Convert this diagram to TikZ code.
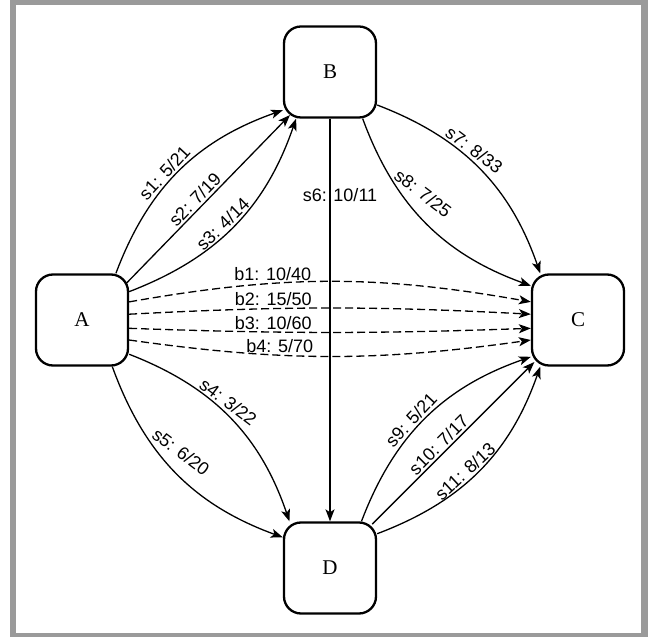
\documentclass[tikz,border=0pt]{standalone}
\usepackage{fontspec}
\setmainfont{Liberation Serif}
\newfontfamily\sansfam{Liberation Sans}
\usetikzlibrary{arrows.meta}
\definecolor{framegray}{HTML}{9A9A9A}
\newcommand{\boxfont}{\fontsize{21}{25}\selectfont}
\newcommand{\edgefont}{\sansfam\fontsize{18}{20}\selectfont}

\begin{document}
\begin{tikzpicture}[x=1pt,y=1pt,
  state/.style={draw, line width=2.3pt, rounded corners=17pt, minimum width=92pt, minimum height=91pt, inner sep=0pt, font=\boxfont},
  flow/.style={-{Stealth[length=12pt,width=9pt,inset=3pt]}, line width=1.3pt},
  bulk/.style={flow, dash pattern=on 8pt off 4pt},
  lbl/.style={font=\edgefont, sloped, above, inner sep=2pt},
  dlbl/.style={font=\edgefont, rotate=-37, above, inner sep=3pt},
  blbl/.style={font=\edgefont, above, inner sep=2pt}]
\useasboundingbox (0,0) rectangle (648,637);
% frame
\fill[white] (0,0) rectangle (648,637);
\fill[framegray] (10,0) rectangle (648,637);
\fill[white] (16,4) rectangle (641,632);

\node[state] (A) at (82,317) {A};
\node[state] (B) at (330,565) {B};
\node[state] (C) at (578,317) {C};
\node[state] (D) at (330,69) {D};

% A to B
\draw[flow] (A.54) to[bend left=25] node[lbl, pos=0.45] {s1: 5/21} (B.219);
\draw[flow, shorten <=-4pt, shorten >=-5pt] (A.40) -- node[lbl, pos=0.46] {s2: 7/19} (B.227);
\draw[flow] (A.31) to[bend right=25] node[lbl, pos=0.47] {s3: 4/14} (B.234);

% A to C, dashed
\draw[bulk] (A.21) to[bend left=10] node[blbl, pos=0.347] {b1: 10/40} (C.159);
\draw[bulk] (A.7) to[bend left=3] node[blbl, pos=0.347] {b2: 15/50} (C.173);
\draw[bulk] (A.-10) to[bend right=2] node[blbl, pos=0.347] {b3: 10/60} (C.190);
\draw[bulk] (A.-23) to[bend right=8] node[blbl, pos=0.365] {b4: 5/70} (C.203);

% A to D
\draw[flow] (A.-36) to[bend left=25] node[dlbl, pos=0.45] {s4: 3/22} (D.131);
\draw[flow] (A.-57) to[bend right=25] node[dlbl, pos=0.46, inner sep=11pt] {s5: 6/20} (D.147);

% B to D
\draw[flow] (B.south) -- node[font=\edgefont, pos=0.19, xshift=10pt] {s6: 10/11} (D.north);

% B to C
\draw[flow] (B.-35) to[bend left=25] node[dlbl, pos=0.43] {s7: 8/33} (C.129);
\draw[flow] (B.-55) to[bend right=25] node[dlbl, pos=0.41, inner sep=11pt] {s8: 7/25} (C.144);

% D to C
\draw[flow] (D.56) to[bend left=25] node[lbl, pos=0.45] {s9: 5/21} (C.218);
\draw[flow, shorten <=-4pt, shorten >=-5pt] (D.46) -- node[lbl, pos=0.45] {s10: 7/17} (C.224);
\draw[flow] (D.36) to[bend right=25] node[lbl, pos=0.45] {s11: 8/13} (C.231);
\end{tikzpicture}
\end{document}
